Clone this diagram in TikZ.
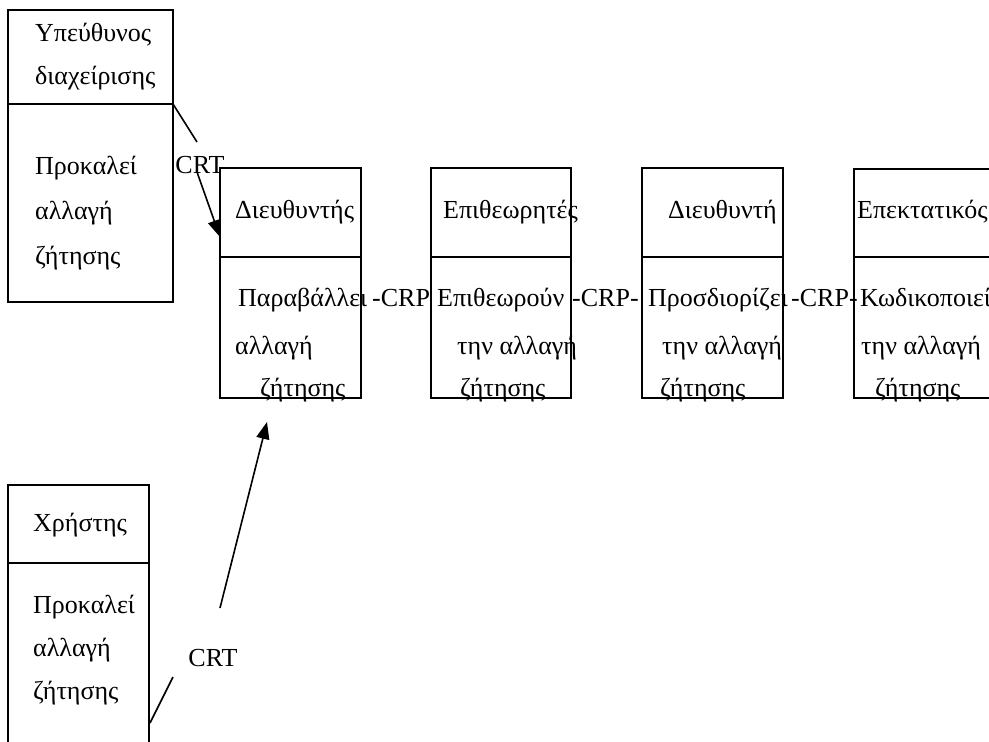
\documentclass[tikz,border=0pt]{standalone}
\usepackage{fontspec}
\setmainfont{Liberation Serif}
\usetikzlibrary{arrows.meta}
\begin{document}
\begin{tikzpicture}[x=1pt,y=-1pt,
  box/.style={draw, line width=1.6pt, rectangle, anchor=north west, inner sep=0pt, outer sep=0pt},
  lbl/.style={anchor=west, inner sep=0pt, font=\fontsize{26}{30}\selectfont, text height=18.5pt, text depth=6.5pt},
  conn/.style={line width=1.6pt},
  arr/.style={line width=1.6pt, -{Triangle[length=17pt,width=13pt]}}]
\useasboundingbox (0,0) rectangle (989,742);
\clip (0,0) rectangle (989,742);
% boxes
\node[box, minimum width=165pt, minimum height=94pt] (h1) at (8,10) {};
\node[box, minimum width=165pt, minimum height=198pt] (b1) at (8,104) {};
\node[box, minimum width=141pt, minimum height=89pt] (h2) at (220,168) {};
\node[box, minimum width=141pt, minimum height=141pt] (b2) at (220,257) {};
\node[box, minimum width=140pt, minimum height=89pt] (h3) at (431,168) {};
\node[box, minimum width=140pt, minimum height=141pt] (b3) at (431,257) {};
\node[box, minimum width=141pt, minimum height=89pt] (h4) at (642,168) {};
\node[box, minimum width=141pt, minimum height=141pt] (b4) at (642,257) {};
\node[box, minimum width=200pt, minimum height=88pt] (h5) at (854,169) {};
\node[box, minimum width=200pt, minimum height=141pt] (b5) at (854,257) {};
\node[box, minimum width=141pt, minimum height=78pt] (h6) at (8,485) {};
\node[box, minimum width=141pt, minimum height=250pt] (b6) at (8,563) {};
% texts box 1
\node[lbl] (t1a) at (35,35) {Υπεύθυνος};
\node[lbl] (t1b) at (35,78) {διαχείρισης};
\node[lbl] (t1c) at (35,168) {Προκαλεί};
\node[lbl] (t1d) at (35,213) {αλλαγή};
\node[lbl] (t1e) at (35,258) {ζήτησης};
% box 2
\node[lbl] (t2a) at (235,212) {Διευθυντής};
\node[lbl] (t2b) at (238,300) {Παραβάλλει};
\node[lbl] (t2c) at (235,348) {αλλαγή};
\node[lbl] (t2d) at (260,390) {ζήτησης};
% box 3
\node[lbl] (t3a) at (443,212) {Επιθεωρητές};
\node[lbl] (t3b) at (437,300) {Επιθεωρούν};
\node[lbl] (t3c) at (457,348) {την αλλαγή};
\node[lbl] (t3d) at (460,390) {ζήτησης};
% box 4
\node[lbl] (t4a) at (668,212) {Διευθυντή};
\node[lbl] (t4b) at (648,300) {Προσδιορίζει};
\node[lbl] (t4c) at (662,348) {την αλλαγή};
\node[lbl] (t4d) at (660,390) {ζήτησης};
% box 5
\node[lbl] (t5a) at (857,212) {Επεκτατικός};
\node[lbl] (t5b) at (860,300) {Κωδικοποιεί};
\node[lbl] (t5c) at (861,348) {την αλλαγή};
\node[lbl] (t5d) at (875,390) {ζήτησης};
% box 6
\node[lbl] (t6a) at (33,525) {Χρήστης};
\node[lbl] (t6b) at (33,607) {Προκαλεί};
\node[lbl] (t6c) at (33,650) {αλλαγή};
\node[lbl] (t6d) at (33,693) {ζήτησης};
% CRP labels
\node[lbl] (crp1) at (372,300) {-CRP};
\node[lbl] (crp2) at (572,300) {-CRP-};
\node[lbl] (crp3) at (791,300) {-CRP-};
% CRT labels
\node[lbl, anchor=center] (crt1) at (200,167) {CRT};
\node[lbl, anchor=center] (crt2) at (213,660) {CRT};
% connectors
\coordinate (c1) at (197,142);
\coordinate (c2) at (197,172);
\coordinate (a2) at (220,237);
\draw[conn] (h1.south east) -- (c1);
\draw[arr] (c2) -- (a2);
\coordinate (c3) at (150,723);
\coordinate (c4) at (173,677);
\coordinate (c5) at (220,608);
\coordinate (a5) at (267,422);
\draw[conn] (c3) -- (c4);
\draw[arr] (c5) -- (a5);
\end{tikzpicture}
\end{document}
